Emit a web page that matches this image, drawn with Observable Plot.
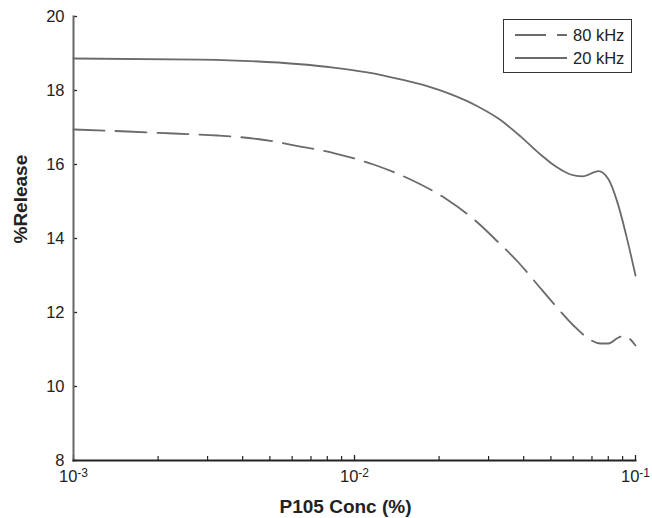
<!DOCTYPE html>
<html>
<head>
<meta charset="utf-8">
<script src="https://cdn.jsdelivr.net/npm/d3@7"></script>
<script src="https://cdn.jsdelivr.net/npm/@observablehq/plot@0.6"></script>
<style>
  html, body { margin: 0; padding: 0; background: #fff; }
  #wrap { position: relative; width: 652px; height: 518px; font-family: "Liberation Sans", Arial, sans-serif; }
  #legend { position: absolute; left: 503px; top: 19px; width: 127px; height: 52px; border: 1.5px solid #333; background: #fff; }
  #legend .row { position: absolute; left: 0; height: 20px; display: flex; align-items: center; }
  #legend .row span { font-size: 16.5px; color: #222; margin-left: 5px; }
</style>
</head>
<body>
<div id="wrap"></div>
<script>
// ---- data ----
const series80Name = "80 kHz";
const series20Name = "20 kHz";

const conc20 = [0.001, 0.00283, 0.00643, 0.00841, 0.0111, 0.0146, 0.0179, 0.02197, 0.02696, 0.03309, 0.03897, 0.04591, 0.05192, 0.05871, 0.06477, 0.07383, 0.08014, 0.08629, 0.0936, 0.1];
const release20 = [18.865, 18.835, 18.71, 18.62, 18.49, 18.3, 18.13, 17.9, 17.6, 17.2, 16.76, 16.27, 15.95, 15.73, 15.68, 15.82, 15.6, 14.97, 13.95, 13.0];

const conc80 = [0.001, 0.001557, 0.00227, 0.003254, 0.004516, 0.006425, 0.008558, 0.01168, 0.01583, 0.02108, 0.0274, 0.03228, 0.03834, 0.04443, 0.05148, 0.06017, 0.06641, 0.07505, 0.08014, 0.087, 0.09213, 0.09598, 0.1];
const release80 = [16.946, 16.892, 16.838, 16.784, 16.689, 16.486, 16.297, 16.0, 15.595, 15.081, 14.432, 13.919, 13.351, 12.784, 12.216, 11.649, 11.351, 11.162, 11.162, 11.324, 11.378, 11.27, 11.108];

const xMajorTicks = [0.001, 0.01, 0.1];
const xMajorExponents = ["-3", "-2", "-1"];
const xMinorTicks = [0.002, 0.003, 0.004, 0.005, 0.006, 0.007, 0.008, 0.009,
                     0.02, 0.03, 0.04, 0.05, 0.06, 0.07, 0.08, 0.09];
const yTicks = [8, 10, 12, 14, 16, 18, 20];
const xLabel = "P105 Conc (%)";
const yLabel = "%Release";

// ---- build tables ----
const data20 = conc20.map((c, i) => ({conc: c, release: release20[i]}));
const data80 = conc80.map((c, i) => ({conc: c, release: release80[i]}));

const lineColor = "#6a6a6a";
const font = "'Liberation Sans', Arial, sans-serif";

const chart = Plot.plot({
  width: 652,
  height: 518,
  marginLeft: 73,
  marginRight: 17,
  marginTop: 16,
  marginBottom: 58,
  style: {fontFamily: font, fontSize: "16.5px", color: "#222", background: "#fff"},
  x: {type: "log", domain: [0.001, 0.1]},
  y: {domain: [8, 20]},
  marks: [
    Plot.line(data20, {x: "conc", y: "release", stroke: lineColor, strokeWidth: 1.8, curve: "monotone-x"}),
    Plot.line(data80, {x: "conc", y: "release", stroke: lineColor, strokeWidth: 1.8, curve: "monotone-x", strokeDasharray: "31,11"}),
    // axes
    Plot.axisY({ticks: yTicks, tickSize: 0, tickPadding: 9, label: null, fontSize: 16.5}),
    Plot.axisY({ticks: yTicks, tickSize: 4, dx: 4, tickFormat: () => "", label: null, stroke: "#222", strokeWidth: 1.3}),
    Plot.axisX({ticks: xMajorTicks, tickSize: 0, tickPadding: 10, tickFormat: (d) => "10" + xMajorExponents[xMajorTicks.indexOf(d)], label: null, fontSize: 16.5}),
    Plot.axisX({ticks: xMajorTicks, tickSize: 5, dy: -5, tickFormat: () => "", label: null, stroke: "#222", strokeWidth: 1.3}),
    Plot.axisX({ticks: xMinorTicks, tickSize: 4, dy: -4, tickFormat: () => "", label: null, stroke: "#222", strokeWidth: 1.2}),
    Plot.frame({anchor: "left", stroke: "#666", strokeWidth: 2}),
    Plot.frame({anchor: "bottom", stroke: "#222", strokeWidth: 2}),
    Plot.text([xLabel], {frameAnchor: "bottom", dx: -9, dy: 46, fontWeight: "bold", fontSize: 19, lineAnchor: "middle", fill: "#222"}),
    Plot.text([yLabel], {frameAnchor: "left", dx: -53, dy: 5, rotate: -90, fontWeight: "bold", fontSize: 19, lineAnchor: "middle", fill: "#222"})
  ]
});

document.getElementById("wrap").appendChild(chart);

// superscript exponents on x tick labels
d3.select(chart).selectAll('g[aria-label="x-axis tick label"] text').each(function() {
  const t = d3.select(this);
  const s = t.text();
  if (s.startsWith("10") && s.length > 2) {
    const exp = s.slice(2);
    t.text("10");
    t.append("tspan").attr("dy", "-0.45em").attr("font-size", "12px").text(exp);
  }
});

// legend
const legend = document.createElement("div");
legend.id = "legend";
const rows = [
  {name: series80Name, dash: "31,11", top: 5},
  {name: series20Name, dash: null, top: 28}
];
for (const r of rows) {
  const row = document.createElement("div");
  row.className = "row";
  row.style.top = r.top + "px";
  row.innerHTML = `<svg width="64" height="20" style="display:block"><line x1="11" x2="63" y1="10" y2="10" stroke="${lineColor}" stroke-width="1.8" ${r.dash ? `stroke-dasharray="${r.dash}"` : ""}/></svg><span>${r.name}</span>`;
  legend.appendChild(row);
}
document.getElementById("wrap").appendChild(legend);
</script>
</body>
</html>
